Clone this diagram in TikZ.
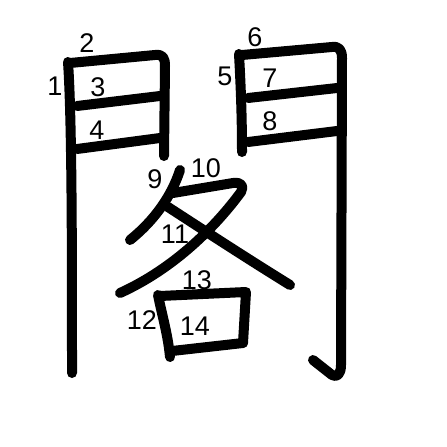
\documentclass[tikz,border=0pt]{standalone}
\usepackage{fontspec}
\setmainfont{Liberation Sans}
\begin{document}
\begin{tikzpicture}[x=1pt,y=-1pt,
  strk/.style={line width=10pt,line cap=round,line join=round,black},
  num/.style={font=\fontsize{27}{27}\selectfont,inner sep=0pt}]
\useasboundingbox (0,0) rectangle (447,447);
% left gate
\draw[strk] (68,62) .. controls (72,120) and (72,250) .. (72,373);
\draw[strk] (70,63) -- (155,55) .. controls (163,54) and (165,58) .. (165,66) -- (164,156);
\draw[strk] (77,106) -- (160,96);
\draw[strk] (77,149) -- (160,138);
% right gate
\draw[strk] (239,54) .. controls (241,90) and (242,120) .. (242,152);
\draw[strk] (242,55) -- (332,47) .. controls (339,46) and (342,50) .. (342,58) -- (341,365) .. controls (341,374) and (337,378) .. (332,375) -- (313,360);
\draw[strk] (248,98) -- (337,88);
\draw[strk] (248,142) -- (337,131);
% each
\draw[strk] (180,170) .. controls (172,195) and (155,220) .. (130,240);
\draw[strk] (173,193) -- (233,183) .. controls (242,182) and (244,186) .. (241,192) .. controls (216,226) and (175,268) .. (120,293);
\draw[strk] (168,207) .. controls (208,233) and (248,259) .. (290,285);
\draw[strk] (158,295) .. controls (162,315) and (168,335) .. (170,357);
\draw[strk] (160,296) -- (246,292) -- (243,343);
\draw[strk] (172,351) -- (243,343);
% numbers
\node[num] (n1) at (55,86) {1};
\node[num] (n2) at (87,43) {2};
\node[num] (n3) at (98,87) {3};
\node[num] (n4) at (97,130) {4};
\node[num] (n5) at (225,76) {5};
\node[num] (n6) at (255,37) {6};
\node[num] (n7) at (270,78) {7};
\node[num] (n8) at (270,121) {8};
\node[num] (n9) at (155,179) {9};
\node[num] (n10) at (206,168) {10};
\node[num] (n11) at (175,234) {11};
\node[num] (n12) at (142,320) {12};
\node[num] (n13) at (197,280) {13};
\node[num] (n14) at (195,326) {14};
\end{tikzpicture}
\end{document}
